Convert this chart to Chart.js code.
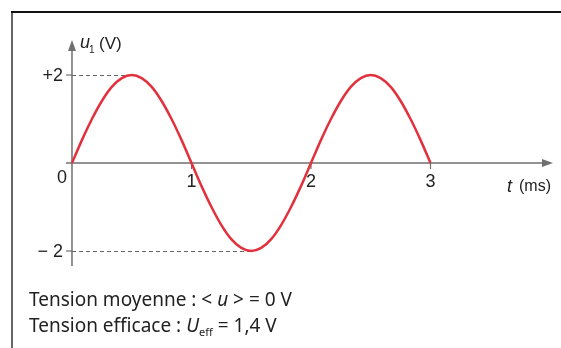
<!DOCTYPE html>
<html>
<head>
<meta charset="utf-8">
<script src="https://cdn.jsdelivr.net/npm/chart.js@4"></script>
<style>
  html, body { margin: 0; padding: 0; background: #fff; }
  canvas { display: block; }
</style>
</head>
<body>
<canvas id="sineChart" width="561" height="348"></canvas>
<script>
// u1(t) sampled every 1/12 ms over three half periods
const times = [0, 0.083, 0.167, 0.25, 0.333, 0.417, 0.5, 0.583, 0.667, 0.75, 0.833, 0.917,
    1, 1.083, 1.167, 1.25, 1.333, 1.417, 1.5, 1.583, 1.667, 1.75, 1.833, 1.917,
    2, 2.083, 2.167, 2.25, 2.333, 2.417, 2.5, 2.583, 2.667, 2.75, 2.833, 2.917, 3];
const volts = [0, 0.52, 1.0, 1.41, 1.73, 1.93, 2, 1.93, 1.73, 1.41, 1.0, 0.52,
    0, -0.52, -1.0, -1.41, -1.73, -1.93, -2, -1.93, -1.73, -1.41, -1.0, -0.52,
    0, 0.52, 1.0, 1.41, 1.73, 1.93, 2, 1.93, 1.73, 1.41, 1.0, 0.52, 0];
const xTicks = [1, 2, 3];
const xTickLabels = ["1", "2", "3"];
const yTicks = [2, -2];
const yTickLabels = ["+2", "\u2212 2"];
const peaks = [[0.5, 2], [1.5, -2]];

const axisColor = "#707070";
const textColor = "#222";

function arrowHead(ctx, x, y, dir) {
    ctx.beginPath();
    if (dir === "up") {
        ctx.moveTo(x, y);
        ctx.lineTo(x - 4, y + 11);
        ctx.lineTo(x + 4, y + 11);
    } else {
        ctx.moveTo(x, y);
        ctx.lineTo(x - 11, y - 4);
        ctx.lineTo(x - 11, y + 4);
    }
    ctx.closePath();
    ctx.fill();
}

const drawingPlugin = {
    id: "schoolAxes",
    beforeDatasetsDraw(chart) {
        const ctx = chart.ctx;
        const xs = chart.scales.x, ys = chart.scales.y;
        const x0 = xs.getPixelForValue(0), y0 = ys.getPixelForValue(0);
        ctx.save();

        // frame
        ctx.strokeStyle = "#666";
        ctx.lineWidth = 2;
        ctx.beginPath();
        ctx.moveTo(12, 11);
        ctx.lineTo(12, 348);
        ctx.stroke();
        ctx.strokeStyle = "#111";
        ctx.beginPath();
        ctx.moveTo(11, 12);
        ctx.lineTo(561, 12);
        ctx.stroke();

        // dashed guides to the extrema
        ctx.strokeStyle = "#666";
        ctx.lineWidth = 1;
        ctx.setLineDash([4, 3]);
        peaks.forEach(p => {
            const py = Math.round(ys.getPixelForValue(p[1])) + 0.5;
            ctx.beginPath();
            ctx.moveTo(x0, py);
            ctx.lineTo(xs.getPixelForValue(p[0]), py);
            ctx.stroke();
        });
        ctx.setLineDash([]);

        // axes
        ctx.strokeStyle = axisColor;
        ctx.fillStyle = axisColor;
        ctx.lineWidth = 1.5;
        ctx.beginPath();
        ctx.moveTo(x0, 48);
        ctx.lineTo(x0, 266);
        ctx.moveTo(66, y0);
        ctx.lineTo(545, y0);
        ctx.stroke();
        arrowHead(ctx, x0, 40, "up");
        arrowHead(ctx, 553, y0, "right");

        // tick marks
        ctx.lineWidth = 1.2;
        xTicks.forEach(t => {
            const px = xs.getPixelForValue(t);
            ctx.beginPath();
            ctx.moveTo(px, y0);
            ctx.lineTo(px, y0 + 6);
            ctx.stroke();
        });
        yTicks.forEach(v => {
            const py = ys.getPixelForValue(v);
            ctx.beginPath();
            ctx.moveTo(x0 - 6, py);
            ctx.lineTo(x0, py);
            ctx.stroke();
        });
        ctx.restore();
    },
    afterDatasetsDraw(chart) {
        const ctx = chart.ctx;
        const xs = chart.scales.x, ys = chart.scales.y;
        const x0 = xs.getPixelForValue(0), y0 = ys.getPixelForValue(0);
        ctx.save();
        ctx.fillStyle = textColor;
        ctx.font = "18px 'Liberation Sans', Arial, sans-serif";
        ctx.textBaseline = "middle";

        ctx.textAlign = "right";
        yTicks.forEach((v, i) => ctx.fillText(yTickLabels[i], x0 - 9, ys.getPixelForValue(v) + 1));
        ctx.fillText("0", x0 - 5, y0 + 15);

        ctx.textAlign = "center";
        xTicks.forEach((t, i) => ctx.fillText(xTickLabels[i], xs.getPixelForValue(t), y0 + 19));

        // axis names
        ctx.textAlign = "left";
        ctx.font = "italic 18px 'Liberation Sans', Arial, sans-serif";
        ctx.fillText("t", 507, y0 + 24);
        ctx.font = "16px 'Liberation Sans', Arial, sans-serif";
        ctx.fillText("(ms)", 519, y0 + 24);

        ctx.font = "italic 18px 'Liberation Sans', Arial, sans-serif";
        ctx.fillText("u", 80, 43);
        ctx.font = "10px 'Liberation Sans', Arial, sans-serif";
        ctx.fillText("1", 89, 50);
        ctx.font = "17px 'Liberation Sans', Arial, sans-serif";
        ctx.fillText("(V)", 99, 44);

        // caption lines
        ctx.textBaseline = "alphabetic";
        const cap = "19px 'Noto Sans', sans-serif";
        const capIt = "italic 19px 'Noto Sans', sans-serif";
        const sub = "11px 'Noto Sans', sans-serif";
        function run(parts, x, y) {
            parts.forEach(p => {
                ctx.font = p[1];
                ctx.fillText(p[0], x, y + (p[2] || 0));
                x += ctx.measureText(p[0]).width;
            });
        }
        run([["Tension moyenne : < ", cap], ["u", capIt], [" > = 0 V", cap]], 29, 306);
        run([["Tension efficace : ", cap], ["U", capIt], ["eff", sub, 4], [" = 1,4 V", cap]], 29, 332);
        ctx.restore();
    }
};

new Chart("sineChart", {
    type: "line",
    data: {
        datasets: [{
            data: times.map((t, i) => ({ x: t, y: volts[i] })),
            borderColor: "#e2313d",
            borderWidth: 2.5,
            pointRadius: 0,
            cubicInterpolationMode: "monotone",
            fill: false
        }]
    },
    options: {
        responsive: false,
        animation: false,
        layout: { padding: 0 },
        plugins: { legend: { display: false }, tooltip: { enabled: false } },
        scales: {
            x: { type: "linear", display: false, min: -0.6025, max: 4.092 },
            y: { type: "linear", display: false, min: -4.205, max: 3.705 }
        }
    },
    plugins: [drawingPlugin]
});
</script>
</body>
</html>
